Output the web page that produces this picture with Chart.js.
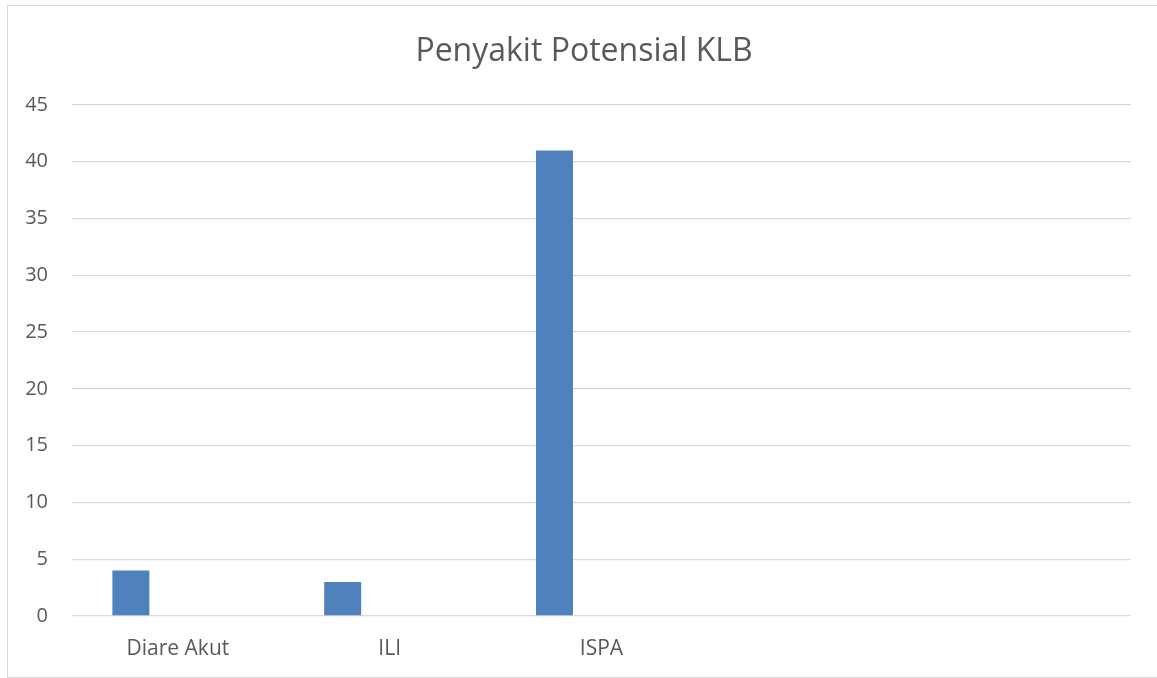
<!DOCTYPE html>
<html>
<head>
<meta charset="utf-8">
<script src="https://cdn.jsdelivr.net/npm/chart.js@4"></script>
<style>
  html, body { margin: 0; padding: 0; background: #ffffff; overflow: hidden; }
  #frame { position: absolute; left: 7px; top: 5px; width: 1149px; height: 671px; border: 1px solid #d9d9d9; }
  #wrap { position: absolute; left: 0; top: 0; width: 1149px; height: 671px; }
</style>
</head>
<body>
<div id="frame"><div id="wrap"><canvas id="c"></canvas></div></div>
<script>
const categories = ["Diare Akut", "ILI", "ISPA", "", ""];
const series1 = [4, 3, 41, null, null];
const series2 = [null, null, null, null, null];
const series3 = [null, null, null, null, null];
const yTicks = [0, 5, 10, 15, 20, 25, 30, 35, 40, 45];

const textColor = '#595959';
const fontFamily = '"Open Sans", "DejaVu Sans", sans-serif';

const titleShift = {
  id: 'titleShift',
  afterLayout(chart) {
    if (chart.titleBlock) { chart.titleBlock.left += 29; }
  }
};

new Chart(document.getElementById('c'), {
  type: 'bar',
  data: {
    labels: categories,
    datasets: [
      { label: 'Series1', data: series1, backgroundColor: '#4f81bd', borderWidth: 0 },
      { label: 'Series2', data: series2, backgroundColor: '#c0504d', borderWidth: 0 },
      { label: 'Series3', data: series3, backgroundColor: '#9bbb59', borderWidth: 0 }
    ]
  },
  plugins: [titleShift],
  options: {
    responsive: true,
    maintainAspectRatio: false,
    animation: false,
    datasets: { bar: { categoryPercentage: 0.666, barPercentage: 0.787 } },
    layout: { padding: { left: 0, right: 26, top: 0, bottom: 17 } },
    plugins: {
      legend: { display: false },
      tooltip: { enabled: false },
      title: {
        display: true,
        text: 'Penyakit Potensial KLB',
        color: textColor,
        font: { family: fontFamily, size: 32, weight: 'normal' },
        padding: { top: 27, bottom: 33.6 }
      }
    },
    scales: {
      x: {
        afterFit: (s) => { s.height = 44; },
        grid: { display: false, drawTicks: false },
        border: { display: false },
        ticks: { color: textColor, font: { family: fontFamily, size: 21 }, padding: 20, maxRotation: 0 }
      },
      y: {
        min: 0,
        max: 45,
        afterFit: (s) => { s.width = 64; },
        afterBuildTicks: (s) => { s.ticks = yTicks.map(v => ({ value: v })); },
        grid: { color: '#d9d9d9', lineWidth: 1.3, drawTicks: false },
        border: { display: false },
        ticks: { color: textColor, font: { family: fontFamily, size: 20 }, padding: 24 }
      }
    }
  }
});
</script>
</body>
</html>
